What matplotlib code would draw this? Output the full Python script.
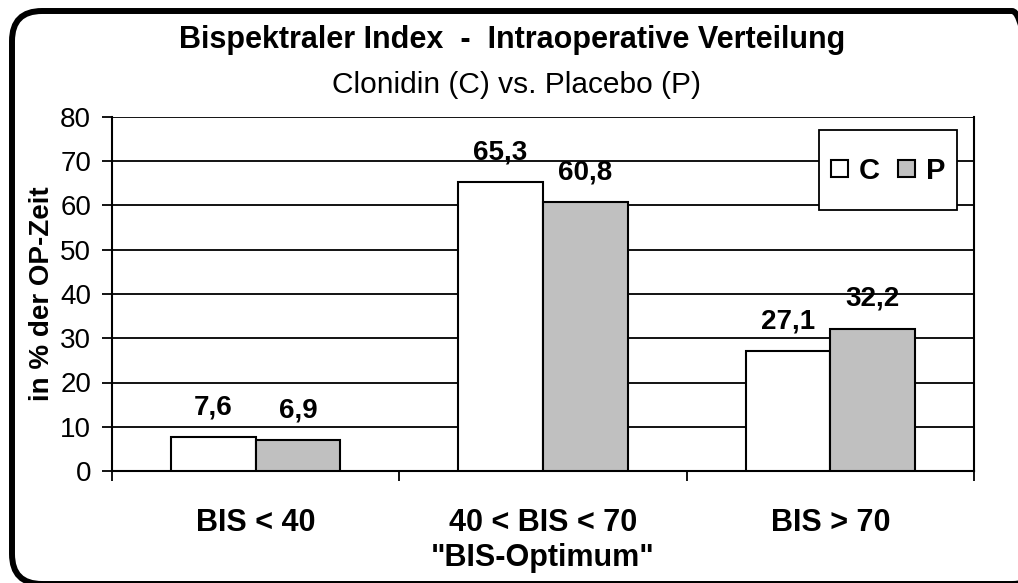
import numpy as np
import matplotlib
matplotlib.use("Agg")
import matplotlib.pyplot as plt
from matplotlib.patches import FancyBboxPatch, Rectangle
from matplotlib.legend_handler import HandlerPatch
from matplotlib.container import BarContainer

plt.rcParams['font.family'] = ['Liberation Sans', 'DejaVu Sans']

# data
categories = ['BIS < 40', '40 < BIS < 70\n"BIS-Optimum"', 'BIS > 70']
clonidin = [7.6, 65.3, 27.1]
placebo = [6.9, 60.8, 32.2]
series_names = ['C', 'P']
yticks = [0, 10, 20, 30, 40, 50, 60, 70, 80]


def small_square(legend, orig_handle, xdescent, ydescent, width, height, fontsize):
    # small square key, centred on the letters instead of filling the tall row
    s = 12.2
    cy = 0.36 * fontsize
    return Rectangle((-xdescent + (width - s) / 2, cy - s / 2), s, s)


def first_child(legend_handle, orig_handle):
    legend_handle.update_from(orig_handle.patches[0])


def main():
    W, H = 1018, 583
    fig = plt.figure(figsize=(W / 100, H / 100), dpi=100)

    # rounded outer frame, in inches (right / bottom run off the edge like the original)
    frame = FancyBboxPatch((0.12, -0.01), 10.30, 5.73,
                           boxstyle="round,pad=0,rounding_size=0.3",
                           transform=fig.dpi_scale_trans, facecolor='none',
                           edgecolor='black', linewidth=4.3, zorder=-1)
    fig.patches.append(frame)

    ax = fig.add_axes([112 / W, 1 - 471 / H, (974 - 112) / W, (471 - 117) / H])
    ax.set_facecolor('none')

    x = np.arange(len(categories))
    w = 0.295
    bc = ax.bar(x - w / 2, clonidin, w, color='white', edgecolor='black',
                linewidth=1.5, label=series_names[0], zorder=3)
    bp = ax.bar(x + w / 2, placebo, w, color='#c0c0c0', edgecolor='black',
                linewidth=1.5, label=series_names[1], zorder=3)

    for bars, vals in ((bc, clonidin), (bp, placebo)):
        for b, v in zip(bars, vals):
            ax.annotate(('%.1f' % v).replace('.', ','),
                        (b.get_x() + b.get_width() / 2, v),
                        xytext=(0, 12), textcoords='offset points',
                        ha='center', va='bottom', fontsize=20,
                        fontweight='bold', zorder=4)

    ax.set_xlim(-0.5, len(categories) - 0.5)
    ax.set_ylim(0, 80)
    ax.set_yticks(yticks)
    ax.yaxis.grid(True, color='black', linewidth=1.3, zorder=0)
    ax.tick_params(axis='y', labelsize=20, length=7, width=1.3, pad=8)

    # category ticks sit on the group boundaries, labels centred below
    ax.set_xticks(np.arange(len(categories) + 1) - 0.5)
    ax.set_xticklabels([])
    ax.tick_params(axis='x', length=7, width=1.3)
    for i, c in enumerate(categories):
        for j, line in enumerate(c.split('\n')):
            ax.annotate(line, (i, 0), xycoords=('data', 'axes fraction'),
                        xytext=(0, -(52 + 35 * j) * 0.72),
                        textcoords='offset points', ha='center', va='center',
                        fontsize=22, fontweight='bold')

    ax.spines['top'].set_visible(False)
    for s in ('left', 'right', 'bottom'):
        ax.spines[s].set_linewidth(1.5)

    ax.set_ylabel('in % der OP-Zeit', fontsize=20, fontweight='bold', labelpad=4)

    leg = ax.legend(loc='upper right', bbox_to_anchor=(0.980, 0.963),
                    ncol=2, prop={'size': 21, 'weight': 'bold'},
                    fancybox=False, framealpha=1, edgecolor='black',
                    handler_map={BarContainer: HandlerPatch(patch_func=small_square,
                                                            update_func=first_child)},
                    handlelength=0.59, handleheight=2.6, handletextpad=0.38,
                    columnspacing=0.6, borderpad=0.4, borderaxespad=0)
    leg.get_frame().set_linewidth(1.3)

    fig.text(512 / W, 1 - 40 / H, 'Bispektraler Index  -  Intraoperative Verteilung',
             ha='center', va='center', fontsize=22, fontweight='bold')
    fig.text(517 / W, 1 - 85 / H, 'Clonidin (C) vs. Placebo (P)',
             ha='center', va='center', fontsize=21.5)

    fig.savefig('out.png', dpi=100)
    return None


if __name__ == "__main__":
    main()
